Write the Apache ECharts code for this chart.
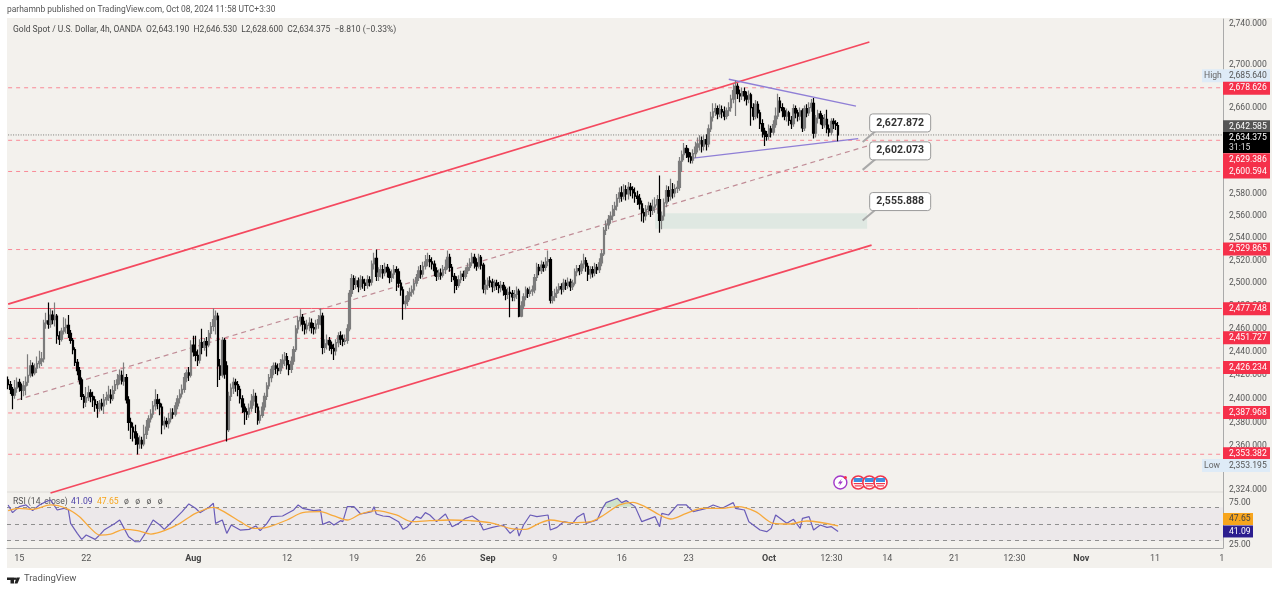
<!DOCTYPE html>
<html>
<head>
<meta charset="utf-8">
<title>Gold Spot / U.S. Dollar, 4h</title>
<script src="https://cdn.jsdelivr.net/npm/echarts@6/dist/echarts.min.js"></script>
<style>
    html, body { margin: 0; padding: 0; background: #fff; }
    #chart { width: 1280px; height: 592px; }
</style>
</head>
<body>
<div id="chart"></div>
<script>
// 4h candles: [open, close, low, high]
const candles = [
    [2416,2412,2408,2419],[2412,2408,2404,2415],[2408,2403,2391,2410],[2403,2409,2400,2416],[2409,2414,2405,2418],[2414,2410,2406,2417],[2410,2407,2399,2413],[2407,2411,2402,2415],[2411,2414,2403,2419],[2414,2420,2411,2438],
    [2420,2428,2418,2433],[2428,2422,2419,2431],[2422,2426,2420,2430],[2426,2430,2422,2436],[2430,2432,2426,2441],[2432,2434,2428,2440],[2434,2465,2431,2468],[2465,2467,2460,2474],[2467,2464,2460,2483],[2464,2472,2461,2478],
    [2472,2468,2464,2476],[2468,2471,2462,2483],[2471,2454,2447,2473],[2454,2451,2446,2458],[2451,2458,2449,2461],[2458,2461,2455,2470],[2461,2463,2456,2469],[2463,2456,2452,2472],[2456,2450,2447,2459],[2450,2442,2438,2452],
    [2442,2431,2428,2444],[2431,2424,2420,2434],[2424,2416,2412,2427],[2416,2402,2399,2418],[2402,2397,2392,2404],[2397,2401,2393,2410],[2401,2405,2398,2411],[2405,2402,2397,2408],[2402,2399,2393,2406],[2399,2395,2389,2402],
    [2395,2392,2384,2398],[2392,2396,2389,2399],[2396,2394,2390,2400],[2394,2399,2387,2404],[2399,2401,2395,2406],[2401,2403,2398,2411],[2403,2400,2396,2408],[2400,2407,2398,2411],[2407,2412,2404,2416],[2412,2416,2408,2421],
    [2416,2420,2412,2425],[2420,2415,2412,2424],[2415,2418,2411,2431],[2418,2399,2396,2421],[2399,2380,2373,2402],[2380,2376,2366,2384],[2376,2372,2364,2380],[2372,2367,2361,2378],[2367,2362,2353.195,2371],[2362,2365,2358,2369],
    [2365,2362,2358,2368],[2362,2370,2360,2378],[2370,2376,2366,2382],[2376,2383,2373,2386],[2383,2387,2380,2391],[2387,2394,2384,2398],[2394,2399,2390,2408],[2399,2396,2391,2404],[2396,2393,2386,2400],[2393,2378,2370,2396],
    [2378,2381,2374,2385],[2381,2379,2376,2384],[2379,2383,2375,2388],[2383,2388,2380,2392],[2388,2387,2383,2392],[2387,2394,2385,2397],[2394,2400,2391,2403],[2400,2404,2396,2408],[2404,2408,2401,2412],[2408,2418,2405,2422],
    [2418,2422,2414,2425],[2422,2420,2415,2427],[2420,2446,2418,2450],[2446,2440,2436,2454],[2440,2437,2432,2454],[2437,2433,2428,2442],[2433,2448,2430,2451],[2448,2444,2438,2460],[2444,2449,2441,2452],[2449,2446,2436,2453],
    [2446,2456,2444,2459],[2456,2462,2452,2466],[2462,2468,2458,2478],[2468,2471,2455,2476],[2471,2428,2410,2474],[2428,2420,2416,2434],[2420,2450,2418,2453],[2450,2421,2417,2452],[2428,2374,2364,2432],[2374,2402,2372,2406],
    [2402,2409,2398,2413],[2409,2414,2404,2418],[2414,2412,2406,2417],[2412,2408,2402,2415],[2408,2400,2396,2411],[2400,2393,2388,2403],[2393,2389,2378,2396],[2389,2387,2382,2392],[2387,2392,2384,2396],[2392,2398,2389,2404],
    [2398,2402,2394,2408],[2402,2393,2388,2405],[2393,2382,2378,2396],[2382,2386,2379,2390],[2386,2393,2384,2397],[2393,2402,2390,2405],[2402,2411,2399,2414],[2411,2418,2408,2421],[2418,2425,2414,2428],[2425,2428,2420,2431],
    [2428,2426,2421,2431],[2426,2424,2420,2430],[2424,2430,2421,2434],[2430,2433,2426,2438],[2433,2436,2428,2440],[2436,2429,2425,2439],[2429,2425,2420,2433],[2425,2432,2422,2436],[2432,2442,2429,2445],[2442,2460,2440,2463],
    [2460,2467,2456,2471],[2467,2470,2462,2477],[2470,2464,2458,2473],[2464,2460,2455,2467],[2460,2463,2456,2468],[2463,2465,2458,2470],[2465,2461,2456,2469],[2461,2460,2455,2465],[2460,2464,2456,2468],[2464,2468,2460,2472],
    [2468,2471,2463,2478],[2471,2444,2438,2474],[2444,2447,2439,2451],[2447,2450,2442,2455],[2450,2446,2441,2453],[2446,2443,2438,2449],[2443,2441,2433,2447],[2441,2448,2437,2451],[2448,2454,2444,2457],[2454,2451,2446,2458],
    [2451,2449,2445,2455],[2449,2450,2446,2455],[2450,2460,2447,2464],[2460,2491,2458,2494],[2491,2504,2488,2508],[2504,2499,2494,2507],[2499,2502,2495,2506],[2502,2497,2492,2505],[2497,2503,2494,2507],[2503,2500,2495,2506],
    [2500,2498,2493,2504],[2498,2503,2495,2507],[2503,2501,2497,2506],[2501,2517,2498,2520],[2517,2522,2512,2527],[2522,2506,2502,2530],[2506,2509,2502,2514],[2509,2512,2505,2516],[2512,2509,2504,2516],[2509,2514,2506,2518],
    [2514,2510,2505,2517],[2510,2505,2500,2513],[2505,2508,2501,2512],[2508,2512,2504,2516],[2512,2510,2493,2515],[2510,2500,2496,2513],[2500,2494,2489,2503],[2494,2482,2468,2497],[2482,2484,2477,2489],[2484,2489,2480,2493],
    [2489,2492,2485,2496],[2492,2494,2488,2498],[2494,2500,2490,2504],[2500,2505,2497,2508],[2505,2511,2502,2515],[2511,2508,2504,2516],[2508,2515,2505,2519],[2515,2519,2512,2525],[2519,2521,2515,2527],[2521,2519,2514,2525],
    [2519,2517,2512,2523],[2517,2511,2506,2520],[2511,2506,2502,2514],[2506,2509,2503,2512],[2509,2507,2503,2513],[2507,2512,2505,2516],[2512,2514,2508,2521],[2514,2523,2512,2529],[2523,2514,2510,2526],[2514,2506,2501,2517],
    [2506,2503,2491,2509],[2503,2498,2494,2506],[2498,2503,2496,2507],[2503,2508,2500,2511],[2508,2506,2502,2511],[2506,2511,2504,2514],[2511,2514,2508,2518],[2514,2518,2511,2522],[2518,2523,2515,2527],[2523,2518,2513,2526],
    [2518,2515,2511,2522],[2515,2523,2513,2526],[2523,2516,2512,2525],[2516,2495,2491,2518],[2495,2498,2490,2503],[2498,2502,2494,2505],[2502,2501,2496,2506],[2501,2497,2492,2504],[2497,2500,2493,2503],[2500,2498,2494,2503],
    [2498,2496,2491,2501],[2496,2498,2492,2502],[2498,2494,2489,2501],[2494,2490,2485,2497],[2490,2492,2486,2496],[2492,2491,2470,2497],[2491,2488,2484,2494],[2488,2490,2484,2494],[2490,2493,2486,2497],[2493,2471,2470,2495],
    [2471,2480,2470,2484],[2480,2488,2477,2491],[2488,2494,2485,2497],[2494,2491,2487,2496],[2491,2493,2488,2497],[2493,2494,2489,2498],[2494,2505,2491,2508],[2505,2514,2502,2518],[2514,2511,2507,2517],[2511,2516,2508,2520],
    [2516,2514,2510,2519],[2514,2519,2511,2523],[2519,2521,2515,2529],[2521,2485,2482,2523],[2485,2488,2482,2493],[2488,2491,2484,2495],[2491,2494,2487,2497],[2494,2497,2491,2500],[2497,2495,2490,2500],[2495,2500,2492,2504],
    [2500,2498,2494,2503],[2498,2501,2495,2505],[2501,2497,2493,2504],[2497,2500,2494,2503],[2500,2510,2498,2513],[2510,2513,2506,2516],[2513,2511,2507,2516],[2511,2517,2508,2520],[2517,2520,2513,2526],[2520,2515,2510,2523],
    [2515,2508,2502,2518],[2508,2512,2504,2515],[2512,2509,2505,2515],[2509,2514,2506,2518],[2514,2512,2508,2517],[2512,2518,2509,2522],[2518,2526,2515,2530],[2526,2547,2524,2550],[2547,2552,2543,2556],[2552,2557,2548,2561],
    [2557,2560,2553,2564],[2560,2566,2556,2570],[2566,2569,2560,2573],[2569,2576,2565,2580],[2576,2581,2572,2586],[2581,2578,2573,2587],[2578,2584,2575,2589],[2584,2580,2574,2588],[2580,2586,2575,2591],[2586,2584,2578,2590],
    [2584,2581,2576,2587],[2581,2578,2572,2586],[2578,2576,2570,2583],[2576,2571,2566,2580],[2571,2563,2555,2574],[2563,2560,2554,2567],[2560,2566,2556,2570],[2566,2569,2561,2573],[2569,2565,2559,2572],[2565,2568,2561,2575],
    [2568,2570,2563,2577],[2570,2575,2562,2579],[2575,2556,2545,2597],[2556,2560,2548,2564],[2560,2572,2556,2576],[2572,2583,2568,2588],[2583,2578,2573,2587],[2578,2584,2574,2594],[2584,2581,2576,2590],[2581,2585,2577,2589],
    [2585,2586,2581,2592],[2586,2610,2583,2614],[2610,2616,2600,2620],[2616,2622,2611,2627],[2622,2618,2613,2625],[2618,2614,2609,2622],[2614,2611,2608,2618],[2611,2617,2608,2621],[2617,2623,2613,2628],[2623,2626,2618,2632],
    [2626,2629,2620,2634],[2629,2624,2618,2633],[2624,2630,2620,2634],[2630,2626,2620,2635],[2626,2640,2623,2644],[2640,2651,2637,2656],[2651,2656,2647,2664],[2656,2659,2652,2664],[2659,2654,2649,2662],[2654,2658,2651,2663],
    [2658,2656,2650,2662],[2656,2652,2648,2661],[2652,2657,2649,2660],[2657,2660,2652,2665],[2660,2668,2656,2672],[2668,2676,2664,2682],[2676,2680,2652,2685.64],[2680,2673,2668,2683],[2673,2671,2665,2677],[2671,2675,2667,2679],
    [2675,2671,2666,2679],[2671,2668,2662,2675],[2668,2672,2664,2676],[2672,2660,2643,2674],[2660,2652,2648,2664],[2652,2663,2649,2667],[2663,2655,2650,2666],[2655,2645,2640,2658],[2645,2638,2632,2649],[2638,2635,2624,2641],
    [2635,2633,2629,2638],[2633,2640,2630,2644],[2640,2637,2632,2643],[2637,2644,2634,2648],[2644,2652,2641,2660],[2652,2666,2649,2673],[2666,2660,2655,2670],[2660,2657,2651,2664],[2657,2652,2648,2660],[2652,2655,2647,2659],
    [2655,2648,2643,2657],[2648,2645,2640,2652],[2645,2659,2642,2663],[2659,2655,2650,2662],[2655,2652,2647,2658],[2652,2657,2648,2660],[2657,2641,2637,2659],[2641,2659,2638,2662],[2659,2655,2651,2663],[2655,2660,2652,2665],
    [2660,2664,2656,2668],[2664,2636,2631,2669],[2636,2650,2632,2653],[2650,2654,2645,2658],[2654,2650,2644,2657],[2650,2644,2640,2653],[2644,2649,2641,2654],[2649,2640,2636,2658],[2640,2637,2633,2644],[2637,2647,2634,2650],
    [2647,2645,2640,2650],[2645,2643.19,2639,2648],[2643.19,2634.375,2628.6,2646.53]
];

// RSI(14) and its moving average, sampled by bar number
const rsiBars = [0,2,5,8,11,14,17,19,22,25,27,28,31,33,35,39,41,43,48,50,52,54,57,59,62,65,68,70,72,75,78,81,84,86,90,92,93,96,98,100,104,108,111,113,116,118,123,128,130,132,137,140,141,144,146,149,150,152,155,158,161,163,164,165,168,171,175,177,179,183,185,187,189,192,196,199,202,205,208,211,213,217,222,225,228,229,231,234,237,242,243,246,249,253,255,258,259,264,266,268,273,275,277,281,284,290,292,293,296,300,304,307,313,316,320,325,326,330,332,337,340,342,344,349,352,355,356,359,361,364,367,369,372];
const rsiValues = [72.8,63.6,70.8,72.8,66,72.8,76.8,78.8,66.8,68.8,66.8,50.8,38.8,31.6,36.8,31.6,36.8,42.8,50.8,54.8,44.8,34.8,28.8,28.8,40.8,54.8,48.8,43.6,48.8,56.8,64.8,74,68.8,63.6,70,74.8,50.8,54.8,38.8,48.8,42.8,43.6,47.6,42,50.8,58.8,59.6,66.8,72.8,68.8,66,66.8,49.6,52.8,48.8,54,52.8,70.8,70.8,62,63.6,64.8,70.8,62,59.6,58.8,52.8,43.6,46.8,58.8,56.8,63.6,60.8,52.8,62,46.8,50.8,56.8,59.6,54,42.8,46,48.8,38.8,46,35.6,48.8,60.8,58.8,60.8,42.8,46,52.8,50.8,58,62.8,50.8,54.8,66.8,75.6,80.8,75.6,78,70.8,52.8,58.8,46.8,62.8,60.8,72.8,72.8,64.8,68.8,72.8,68.8,75.6,68.8,66.8,52.8,42.8,40.8,44.8,60.8,50.8,55.6,44.8,56.8,58.8,42.8,48.8,46,46.8,41.09];
const maBars = [0,5,11,19,26,32,37,41,46,52,58,64,70,77,84,92,98,104,110,116,125,132,140,146,152,158,165,174,181,189,198,207,216,225,232,238,243,252,261,267,274,280,286,292,297,304,311,320,327,335,343,350,358,372];
const maValues = [66,68.8,67.6,72.8,68.8,58.8,44.8,36.8,38,43.6,42,38,42,50.8,62.8,70,62.8,52.8,44.8,46,54.8,63.6,64.8,59.6,54.8,62,66,60.8,52.8,54,54.8,54,51.6,44.8,43.6,50.8,54.8,51.6,52.8,60.8,72.8,76,70,60.8,56,62.8,68.8,68.8,70.8,64.8,50.8,50,53.6,47.65];

// time scale
const barCount = 545;
const timeBars = [5,35,83,125,155,185,215,245,275,305,341,369,394,424,451,481,514,544];
const timeLabels = ['15','22','Aug','12','19','26','Sep','9','16','23','Oct','12:30','14','21','12:30','Nov','11','1'];
const monthLabels = ['Aug','Sep','Oct','Nov'];

// axis ticks
const priceTicks = [2740,2700,2660,2580,2560,2540,2520,2500,2480,2460,2440,2420,2400,2380,2360,2324];
const rsiTicks = [75,25];

// drawn levels
const dashedLevels = [2678.626,2629.386,2600.594,2529.865,2451.727,2426.234,2387.968,2353.382];
const solidLevel = 2477.748;
const lastPrice = 2634.375;

// trend lines: [bar, price, bar, price]
const channelLines = [[0,2481.6,386,2722.3],[19,2321.4,387,2533.9]];
const channelMid = [4,2399,385,2624.1];
const wedgeLines = [[323,2686.7,380,2661.3],[306,2612.6,381,2630.9]];
const zoneBars = [290,385];
const zonePrices = [2548.5,2562.5];

// callouts: bar of the tip, price shown
const calloutBars = [383,383,383];
const calloutPrices = [2627.872,2602.073,2555.888];

// right-hand price tags
const tagPrices = [2685.64,2678.626,2642.585,2634.375,2629.386,2600.594,2529.865,2477.748,2451.727,2426.234,2387.968,2353.382,2353.195];
const tagKinds = ['high','level','mark','last','level','level','level','level','level','level','level','level','low'];
const tagNudges = [-4.7,0.5,0.7,-1,19.4,0.5,-0.5,0.3,-0.5,-0.5,-0.5,-0.5,11];
const rsiTagValues = [47.65,41.09];

// event markers
const eventBars = [373,381,386,391];

const FONT = 'Roboto, sans-serif';
const TEXT_COLOR = '#555';
const PANEL = '#f3f1ed';
const RED_TAG = '#f5304a';
const SMALL = 8.6;

const GRID_LEFT = 7;
const GRID_RIGHT = 1223;

const fmtPrice = v => v.toFixed(3).replace(/\B(?=(\d{3})+(?!\d))(?=.*\.)/g, ',');

const categories = Array.from({ length: barCount }, (_, i) => String(i));
const seg = (a, b) => [[a[0], a[1]], [b[0], b[1]]];

const lineSeries = (pts, color, width, type, z) => ({
    type: 'line',
    data: pts,
    symbol: 'none',
    silent: true,
    z: z || 3,
    itemStyle: { color },
    lineStyle: { color, width, type }
});

const levelSeries = dashedLevels.map(v =>
    lineSeries([[0, v], [barCount - 1, v]], '#f98a97', 1, [4, 4]));

const trendSeries = []
    .concat(channelLines.map(l =>
        lineSeries(seg([l[0], l[1]], [l[2], l[3]]), '#f4495f', 1.8, 'solid', 4)))
    .concat(wedgeLines.map(l =>
        lineSeries(seg([l[0], l[1]], [l[2], l[3]]), '#8f7fd6', 1.3, 'solid', 4)))
    .concat([lineSeries(seg([channelMid[0], channelMid[1]], [channelMid[2], channelMid[3]]), '#c08c96', 1.2, [5, 4])]);

const renderZone = (params, api) => {
    const a = api.coord([api.value(0), api.value(2)]);
    const b = api.coord([api.value(1), api.value(3)]);
    return {
        type: 'rect',
        shape: { x: a[0], y: b[1], width: b[0] - a[0], height: a[1] - b[1] },
        style: { fill: '#dfe8e2' }
    };
};

const renderCallout = (params, api) => {
    const tip = api.coord([api.value(0), api.value(1)]);
    const bx = tip[0] + 7;
    const by = tip[1] - 28;
    return {
        type: 'group',
        children: [
            { type: 'line', shape: { x1: tip[0], y1: tip[1], x2: bx + 6, y2: by + 17 }, style: { stroke: '#a9a9a9', lineWidth: 2 } },
            { type: 'rect', shape: { x: bx, y: by, width: 61, height: 18, r: 3 }, style: { fill: '#fff', stroke: '#9a9a9a', lineWidth: 1 } },
            { type: 'text', style: { x: bx + 30.5, y: by + 9, text: fmtPrice(api.value(1)), fill: '#333', font: 'bold 10.5px ' + FONT, align: 'center', verticalAlign: 'middle' } }
        ]
    };
};

const TAG_LOOK = {
    high: { fill: '#deebf7', text: '#555', left: 1202, word: 'High' },
    low: { fill: '#deebf7', text: '#555', left: 1202, word: 'Low' },
    level: { fill: RED_TAG, text: '#fff', left: GRID_RIGHT },
    mark: { fill: '#555', text: '#fff', left: GRID_RIGHT },
    last: { fill: '#000', text: '#fff', left: GRID_RIGHT }
};

const renderTag = (params, api) => {
    const kind = tagKinds[params.dataIndex];
    const look = TAG_LOOK[kind];
    const y = api.coord([0, api.value(1)])[1] + tagNudges[params.dataIndex];
    const font = SMALL + 'px ' + FONT;
    const children = [];
    if (kind === 'last') {
        children.push(
            { type: 'rect', shape: { x: look.left, y: y - 2, width: 47, height: 21 }, style: { fill: look.fill } },
            { type: 'text', style: { x: 1229, y: y + 4, text: fmtPrice(api.value(1)), fill: look.text, font, verticalAlign: 'middle' } },
            { type: 'text', style: { x: 1229, y: y + 14, text: '31:15', fill: '#ddd', font, verticalAlign: 'middle' } }
        );
    } else {
        children.push(
            { type: 'rect', shape: { x: look.left, y: y - 6.5, width: 1270 - look.left, height: 13 }, style: { fill: look.fill } },
            { type: 'text', style: { x: 1229, y, text: fmtPrice(api.value(1)), fill: look.text, font, verticalAlign: 'middle' } }
        );
        if (look.word) {
            children.push({ type: 'text', style: { x: 1204, y, text: look.word, fill: '#666', font, verticalAlign: 'middle' } });
        }
    }
    return { type: 'group', children };
};

const renderRsiTag = (params, api) => {
    const y = api.coord([0, api.value(1)])[1];
    const first = params.dataIndex === 0;
    const cy = first ? y - 7 : y;
    return {
        type: 'group',
        children: [
            { type: 'rect', shape: { x: GRID_RIGHT, y: cy - 6, width: 30, height: 12 }, style: { fill: first ? '#f7a51d' : '#2c1e8f' } },
            { type: 'text', style: { x: 1229, y: cy, text: api.value(1).toFixed(2), fill: first ? '#444' : '#fff', font: SMALL + 'px ' + FONT, verticalAlign: 'middle' } }
        ]
    };
};

// over-70 patch of the RSI line
const renderOverbought = (params, api) => {
    const pts = [];
    rsiBars.forEach((b, i) => {
        if (b >= 266 && b <= 281) pts.push(api.coord([b, Math.max(rsiValues[i], 70)]));
    });
    return { type: 'polygon', shape: { points: pts }, style: { fill: 'rgba(76, 175, 80, 0.22)' } };
};

const renderEvent = (params, api) => {
    const x = api.coord([api.value(0), 2400])[0];
    const y = 482.5;
    if (params.dataIndex === 0) {
        return {
            type: 'group',
            children: [
                { type: 'circle', shape: { cx: x, cy: y, r: 6.5 }, style: { fill: '#fff', stroke: '#a238c9', lineWidth: 1.4 } },
                { type: 'polygon', shape: { points: [[x + 1.5, y - 4], [x - 2.5, y + 1], [x, y + 1], [x - 1.5, y + 4], [x + 2.5, y - 1], [x, y - 1]] }, style: { fill: '#a238c9' } },
                { type: 'circle', shape: { cx: x + 5, cy: y - 5, r: 1.6 }, style: { fill: '#f5304a' } }
            ]
        };
    }
    return {
        type: 'group',
        children: [
            { type: 'circle', shape: { cx: x, cy: y, r: 6.5 }, style: { fill: '#fff', stroke: '#f0364c', lineWidth: 1.6 } },
            { type: 'rect', shape: { x: x - 4.5, y: y - 4.5, width: 9, height: 4 }, style: { fill: '#3f8fe0' } },
            { type: 'rect', shape: { x: x - 4.5, y: y + 0.5, width: 9, height: 1.2 }, style: { fill: '#f0364c' } },
            { type: 'rect', shape: { x: x - 3.5, y: y + 2.8, width: 7, height: 1.2 }, style: { fill: '#f0364c' } }
        ]
    };
};

const option = {
    animation: false,
    backgroundColor: '#fff',
    textStyle: { fontFamily: FONT },
    graphic: {
        elements: [
            { type: 'rect', z: -10, shape: { x: GRID_LEFT, y: 18, width: 1265, height: 550 }, style: { fill: PANEL } },
            { type: 'rect', z: -9, shape: { x: GRID_LEFT, y: 491, width: 1216, height: 2 }, style: { fill: '#e8e6e2' } },
            { type: 'text', x: 7, y: 6, style: { text: 'parhamnb published on TradingView.com, Oct 08, 2024 11:58 UTC+3:30', fill: '#555', font: '8.45px ' + FONT } },
            { type: 'text', x: 13, y: 25, style: { text: 'Gold Spot / U.S. Dollar, 4h, OANDA  O2,643.190  H2,646.530  L2,628.600  C2,634.375  −8.810 (−0.33%)', fill: '#4a4a4a', font: '8.5px ' + FONT } },
            { type: 'text', x: 13, y: 497, style: { text: 'RSI (14, close)', fill: '#555', font: SMALL + 'px ' + FONT } },
            { type: 'text', x: 71, y: 497, style: { text: '41.09', fill: '#4a3fa8', font: SMALL + 'px ' + FONT } },
            { type: 'text', x: 97, y: 497, style: { text: '47.65', fill: '#f7a51d', font: SMALL + 'px ' + FONT } },
            { type: 'text', x: 124, y: 497, style: { text: 'ø   ø   ø   ø', fill: '#555', font: SMALL + 'px ' + FONT } },
            // TradingView mark
            { type: 'polygon', shape: { points: [[7, 577.5], [14, 577.5], [14, 583.5], [10.5, 583.5], [10.5, 580], [7, 580]] }, style: { fill: '#222' } },
            { type: 'circle', shape: { cx: 15, cy: 578.7, r: 1.2 }, style: { fill: '#222' } },
            { type: 'polygon', shape: { points: [[16.5, 577.5], [20, 577.5], [17.5, 583.5], [14.5, 583.5]] }, style: { fill: '#222' } },
            { type: 'text', x: 24, y: 574, style: { text: 'TradingView', fill: '#555', font: '9.5px ' + FONT } }
        ]
    },
    grid: [
        { left: GRID_LEFT, right: 1280 - GRID_RIGHT, top: 19, height: 474, containLabel: false },
        { left: GRID_LEFT, right: 1280 - GRID_RIGHT, top: 493, height: 55, containLabel: false }
    ],
    xAxis: [
        {
            type: 'category',
            gridIndex: 0,
            data: categories,
            axisLine: { show: false, onZero: false },
            axisTick: { show: false },
            axisLabel: { show: false }
        },
        {
            type: 'category',
            gridIndex: 1,
            data: categories,
            axisLine: { onZero: false, lineStyle: { color: '#aaa' } },
            axisTick: { show: false },
            axisLabel: {
                margin: 6,
                interval: i => timeBars.includes(i),
                formatter: (value, i) => {
                    const label = timeLabels[timeBars.indexOf(i)];
                    return monthLabels.includes(label) ? `{b|${label}}` : label;
                },
                color: TEXT_COLOR,
                fontSize: 9,
                rich: { b: { fontWeight: 'bold', fontSize: 9, color: '#444' } }
            }
        }
    ],
    yAxis: [
        {
            type: 'log',
            logBase: Math.E,
            gridIndex: 0,
            position: 'right',
            min: 2321.4,
            max: 2744.5,
            splitLine: { show: false },
            axisLine: { show: true, onZero: false, lineStyle: { color: '#aaa' } },
            axisTick: { show: false },
            axisLabel: {
                margin: 6,
                customValues: priceTicks,
                color: TEXT_COLOR,
                fontSize: SMALL,
                formatter: v => fmtPrice(v)
            }
        },
        {
            type: 'value',
            gridIndex: 1,
            position: 'right',
            min: 21.3,
            max: 87.1,
            splitLine: { show: false },
            axisLine: { show: true, onZero: false, lineStyle: { color: '#aaa' } },
            axisTick: { show: false },
            axisLabel: {
                margin: 6,
                customValues: rsiTicks,
                color: TEXT_COLOR,
                fontSize: SMALL,
                formatter: v => v.toFixed(2)
            }
        }
    ],
    series: [
        ...levelSeries,
        lineSeries([[0, solidLevel], [barCount - 1, solidLevel]], '#f4566a', 1, 'solid', 4),
        lineSeries([[0, lastPrice], [barCount - 1, lastPrice]], '#7a7a76', 1, [1, 1.5]),
        ...trendSeries,
        {
            type: 'custom',
            renderItem: renderZone,
            silent: true,
            z: 2,
            encode: { x: [0, 1], y: [2, 3] },
            data: [[zoneBars[0], zoneBars[1], zonePrices[0], zonePrices[1]]]
        },
        {
            type: 'candlestick',
            data: candles,
            barWidth: 2,
            z: 5,
            silent: true,
            itemStyle: {
                color: '#7c7c7c',
                color0: '#000',
                borderColor: '#7c7c7c',
                borderColor0: '#000',
                borderWidth: 1.2
            }
        },
        {
            type: 'custom',
            renderItem: renderCallout,
            silent: true,
            z: 8,
            encode: { x: 0, y: 1 },
            data: calloutBars.map((b, i) => [b, calloutPrices[i]])
        },
        {
            type: 'custom',
            renderItem: renderEvent,
            silent: true,
            z: 8,
            data: eventBars.map(b => [b])
        },
        {
            type: 'custom',
            renderItem: renderTag,
            silent: true,
            z: 10,
            encode: { x: 0, y: 1 },
            data: tagPrices.map(p => [0, p])
        },
        {
            type: 'line',
            xAxisIndex: 1,
            yAxisIndex: 1,
            data: rsiBars.map((b, i) => [b, rsiValues[i]]),
            symbol: 'none',
            silent: true,
            z: 5,
            lineStyle: { color: '#6a5cb8', width: 1.2 },
            markArea: {
                silent: true,
                itemStyle: { color: 'rgba(126, 87, 194, 0.05)' },
                data: [[{ yAxis: 70 }, { yAxis: 30 }]]
            },
            markLine: {
                silent: true,
                symbol: 'none',
                label: { show: false },
                lineStyle: { color: '#8f8f8f', type: [4, 4], width: 1 },
                data: [{ yAxis: 70 }, { yAxis: 50 }, { yAxis: 30 }]
            }
        },
        {
            type: 'line',
            xAxisIndex: 1,
            yAxisIndex: 1,
            data: maBars.map((b, i) => [b, maValues[i]]),
            symbol: 'none',
            smooth: 0.3,
            silent: true,
            z: 6,
            lineStyle: { color: '#f7a93b', width: 1.3 }
        },
        {
            type: 'custom',
            xAxisIndex: 1,
            yAxisIndex: 1,
            renderItem: renderOverbought,
            silent: true,
            z: 4,
            data: [[0]]
        },
        {
            type: 'custom',
            xAxisIndex: 1,
            yAxisIndex: 1,
            renderItem: renderRsiTag,
            silent: true,
            z: 10,
            encode: { x: 0, y: 1 },
            data: rsiTagValues.map(v => [0, v])
        }
    ]
};

const myChart = echarts.init(document.getElementById('chart'), null, { renderer: 'canvas' });
myChart.setOption(option);
</script>
</body>
</html>
